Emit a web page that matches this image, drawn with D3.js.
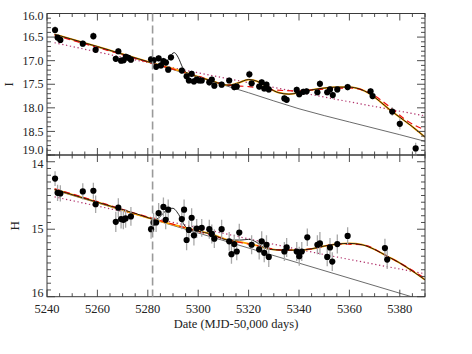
<!DOCTYPE html>
<html><head><meta charset="utf-8">
<script src="https://cdn.jsdelivr.net/npm/d3@7/dist/d3.min.js"></script>
<style>body{margin:0;background:#fff}svg{display:block}text{font-family:"Liberation Serif","Times New Roman",serif;fill:#222}</style>
</head><body><svg id="c" width="472" height="354"></svg>
<script>
// ---- data ----
const Iday = [5243.2,5244.2,5245.3,5254.2,5258.4,5259.3,5267.3,5268.3,5269.4,5270.4,5271.3,5272.3,5273.3,5281.3,5282.3,5283.3,5284.3,5285.2,5286.2,5287.2,5288.1,5289.2,5293.5,5295.4,5296.3,5297.4,5298.3,5299.4,5300.4,5301.4,5304.4,5305.4,5306.4,5309.3,5312.3,5314.3,5315.3,5320.3,5321.2,5324.2,5325.2,5326.2,5327.1,5328.0,5334.2,5335.1,5339.1,5340.1,5341.7,5343.0,5347.3,5348.3,5351.2,5352.3,5353.4,5355.2,5359.3,5368.4,5369.2,5377.0,5380.0,5386.3];
const Imag = [16.35,16.51,16.56,16.64,16.48,16.77,16.96,16.80,17.00,16.99,16.92,16.94,16.98,16.97,16.99,17.13,16.95,17.10,17.01,17.04,17.19,16.93,17.21,17.33,17.42,17.28,17.44,17.40,17.42,17.42,17.46,17.40,17.53,17.51,17.42,17.56,17.55,17.29,17.48,17.55,17.46,17.59,17.51,17.61,17.80,17.83,17.62,17.71,17.66,17.65,17.67,17.49,17.67,17.61,17.73,17.61,17.56,17.65,17.75,18.08,18.34,18.86];
const Ierr = [0.08,0.07,0.07,0.07,0.08,0.07,0.07,0.07,0.07,0.07,0.07,0.07,0.07,0.07,0.07,0.07,0.07,0.07,0.07,0.07,0.07,0.07,0.07,0.07,0.07,0.07,0.07,0.07,0.07,0.07,0.07,0.07,0.07,0.07,0.07,0.07,0.07,0.08,0.07,0.07,0.07,0.07,0.07,0.07,0.07,0.07,0.07,0.07,0.07,0.07,0.07,0.08,0.07,0.07,0.07,0.07,0.07,0.07,0.07,0.09,0.12,0.12];

const Hday = [5243.2,5244.2,5245.3,5254.2,5258.4,5259.3,5267.3,5268.3,5269.4,5270.3,5271.2,5273.3,5281.3,5282.3,5283.3,5284.3,5286.2,5287.1,5288.1,5293.5,5294.4,5295.4,5296.3,5297.4,5298.3,5299.4,5301.4,5304.4,5305.4,5306.4,5309.3,5312.3,5313.2,5314.3,5315.3,5316.3,5321.2,5324.2,5325.2,5326.2,5327.1,5328.0,5334.2,5335.1,5339.1,5340.1,5341.1,5343.3,5347.3,5348.3,5351.2,5352.3,5353.2,5355.2,5359.3,5374.1,5375.0];
const Hmag = [14.25,14.46,14.47,14.44,14.43,14.63,14.89,14.68,14.85,14.86,14.84,14.81,15.00,14.90,14.90,14.76,14.67,14.86,14.71,14.85,14.71,15.16,15.01,14.83,15.09,14.99,14.98,15.00,15.07,15.14,15.00,15.18,15.37,15.22,15.33,15.05,15.23,15.30,15.18,15.35,15.23,15.41,15.33,15.27,15.33,15.40,15.33,15.12,15.23,15.21,15.41,15.27,15.48,15.22,15.10,15.28,15.45];
const Herr = [0.11,0.12,0.12,0.12,0.12,0.13,0.15,0.14,0.14,0.14,0.14,0.14,0.14,0.14,0.14,0.15,0.14,0.14,0.15,0.15,0.15,0.15,0.14,0.14,0.15,0.14,0.13,0.14,0.14,0.14,0.14,0.14,0.14,0.14,0.13,0.13,0.14,0.15,0.15,0.14,0.14,0.15,0.14,0.14,0.14,0.14,0.14,0.13,0.14,0.17,0.14,0.14,0.14,0.14,0.13,0.14,0.14];

// model curves, I band
const gTopDay = [5243,5260,5280,5300,5320,5340,5360,5380,5390];
const gTopMag = [16.44,16.71,17.03,17.35,17.68,18.02,18.30,18.57,18.71];
const dTopDay = [5243,5290,5340,5390];
const dTopMag = [16.62,17.15,17.67,18.17];
const oTopDay = [5243,5260,5280,5290,5300,5306,5312,5316,5320,5324,5328,5332,5336,5340,5345,5350,5355,5360,5364,5368,5372,5376,5380,5385,5390];
const oTopMag = [16.44,16.70,17.02,17.17,17.34,17.44,17.52,17.47,17.40,17.45,17.58,17.68,17.71,17.68,17.62,17.58,17.56,17.56,17.60,17.70,17.86,18.04,18.20,18.40,18.62];
const rTopDay = [5243,5260,5280,5300,5312,5320,5330,5340,5350,5360,5368,5376,5383,5390];
const rTopMag = [16.46,16.72,17.03,17.33,17.52,17.55,17.62,17.64,17.60,17.58,17.68,17.98,18.28,18.47];
const kTopDay = [5243,5260,5280,5284,5286,5287.5,5288.5,5289.5,5290.5,5291.5,5292.5,5293.5,5294.5,5296,5300,5306,5312,5316,5320,5324,5328,5332,5336,5340,5345,5350,5355,5360,5364,5368,5372,5376,5380,5385,5390];
const kTopMag = [16.44,16.70,17.02,17.08,17.08,17.02,16.94,16.86,16.83,16.88,16.98,17.11,17.21,17.27,17.34,17.44,17.52,17.47,17.40,17.45,17.58,17.68,17.71,17.68,17.62,17.58,17.56,17.56,17.60,17.70,17.86,18.04,18.20,18.40,18.62];

// model curves, H band
const gBotDay = [5243,5390];
const gBotMag = [14.42,16.06];
const dBotDay = [5243,5289,5340,5390];
const dBotMag = [14.52,14.89,15.30,15.66];
const oBotDay = [5243,5260,5281,5289,5297,5305,5312,5318,5323,5328,5334,5340,5345,5350,5355,5360,5365,5370,5375,5380,5385,5390];
const oBotMag = [14.41,14.60,14.84,14.92,15.00,15.07,15.16,15.20,15.24,15.29,15.31,15.31,15.29,15.25,15.22,15.21,15.23,15.30,15.40,15.50,15.62,15.75];
const rBotDay = [5243,5260,5281,5297,5312,5323,5334,5345,5355,5365,5375,5385,5390];
const rBotMag = [14.40,14.59,14.83,15.00,15.16,15.24,15.31,15.29,15.22,15.23,15.40,15.61,15.73];
const kBotDay = [5243,5260,5281,5282.5,5284,5285.5,5287,5288.5,5290,5291.5,5293,5294.5,5296,5300,5305,5312,5317,5320,5323,5326,5329,5334,5340,5345,5350,5355,5360,5365,5370,5375,5380,5385,5390];
const kBotMag = [14.41,14.60,14.84,14.86,14.84,14.79,14.73,14.69,14.69,14.74,14.83,14.94,14.99,15.03,15.07,15.16,15.16,15.15,15.19,15.27,15.30,15.31,15.31,15.29,15.25,15.22,15.21,15.23,15.30,15.40,15.50,15.62,15.75];

const eventDay = 5281.9;
const xMajor = [5240,5260,5280,5300,5320,5340,5360,5380];
const topMajor = [16.0,16.5,17.0,17.5,18.0,18.5,19.0];
const botMajor = [14,15,16];

// ---- layout ----
const svg = d3.select('#c');
const L = 47, R = 425;
const x = d3.scaleLinear().domain([5240,5390]).range([L,R]);
const panels = [
  {id:'I', y: d3.scaleLinear().domain([16.0,19.0]).range([13.5,155]), top:13.5, bot:155,
   major: topMajor, fmt: d3.format('.1f'), labX: 9,
   pts: Iday.map((d,i)=>({d, m:Imag[i], e:Ierr[i]})),
   g:[gTopDay,gTopMag], dt:[dTopDay,dTopMag], o:[oTopDay,oTopMag], r:[rTopDay,rTopMag], k:[kTopDay,kTopMag]},
  {id:'H', y: d3.scaleLinear().domain([13.9,16.0]).range([155,296.7]), top:155, bot:296.7,
   major: botMajor, fmt: d3.format('d'), labX: 15,
   pts: Hday.map((d,i)=>({d, m:Hmag[i], e:Herr[i]})),
   g:[gBotDay,gBotMag], dt:[dBotDay,dBotMag], o:[oBotDay,oBotMag], r:[rBotDay,rBotMag], k:[kBotDay,kBotMag]}
];

const axisCol = '#3a3a3a';
panels.forEach((p,pi)=>{
  const y = p.y;
  const clipId = 'clip'+pi;
  svg.append('clipPath').attr('id',clipId).append('rect')
    .attr('x',L).attr('y',p.top).attr('width',R-L).attr('height',p.bot-p.top);
  const g = svg.append('g').attr('clip-path',`url(#${clipId})`);
  const line = d3.line().x(d=>x(d[0])).y(d=>y(d[1])).curve(d3.curveMonotoneX);
  const zip = a => a[0].map((d,i)=>[d,a[1][i]]);
  g.append('path').attr('d',line(zip(p.g))).attr('fill','none').attr('stroke','#5a5a5a').attr('stroke-width',0.9);
  g.append('path').attr('d',line(zip(p.dt))).attr('fill','none').attr('stroke','#b0306a').attr('stroke-width',1.2).attr('stroke-dasharray','1.3,2.6');
  g.append('path').attr('d',line(zip(p.o))).attr('fill','none').attr('stroke','#ffa500').attr('stroke-width',1.8);
  g.append('path').attr('d',line(zip(p.r))).attr('fill','none').attr('stroke','#ee1111').attr('stroke-width',1.2).attr('stroke-dasharray','6,4');
  g.append('path').attr('d',line(zip(p.k))).attr('fill','none').attr('stroke','#111').attr('stroke-width',0.9);
  // error bars
  g.selectAll('line.eb').data(p.pts).join('line').attr('class','eb')
    .attr('x1',d=>x(d.d)).attr('x2',d=>x(d.d)).attr('y1',d=>y(d.m-d.e)).attr('y2',d=>y(d.m+d.e))
    .attr('stroke','#a8a8a8').attr('stroke-width',1.3);
  g.selectAll('circle').data(p.pts).join('circle')
    .attr('cx',d=>x(d.d)).attr('cy',d=>y(d.m)).attr('r',3.1).attr('fill','#000');

  // frame
  svg.append('rect').attr('x',L).attr('y',p.top).attr('width',R-L).attr('height',p.bot-p.top)
    .attr('fill','none').attr('stroke',axisCol).attr('stroke-width',1);
  // x ticks (inward, top and bottom of each panel)
  const xMinor = d3.range(5240,5391,5);
  xMinor.forEach(v=>{
    const big = xMajor.includes(v);
    const len = big?7:3.5;
    svg.append('line').attr('x1',x(v)).attr('x2',x(v)).attr('y1',p.bot).attr('y2',p.bot-len).attr('stroke',axisCol).attr('stroke-width',0.9);
    svg.append('line').attr('x1',x(v)).attr('x2',x(v)).attr('y1',p.top).attr('y2',p.top+len).attr('stroke',axisCol).attr('stroke-width',0.9);
  });
  // y ticks
  const [d0,d1] = y.domain();
  const yMinor = d3.range(Math.round(d0*10), Math.round(d1*10)+1).map(v=>v/10);
  yMinor.forEach(v=>{
    const big = p.major.some(m=>Math.abs(m-v)<1e-6);
    const len = big?8:4;
    svg.append('line').attr('x1',L).attr('x2',L+len).attr('y1',y(v)).attr('y2',y(v)).attr('stroke',axisCol).attr('stroke-width',0.9);
    svg.append('line').attr('x1',R).attr('x2',R-len).attr('y1',y(v)).attr('y2',y(v)).attr('stroke',axisCol).attr('stroke-width',0.9);
  });
  p.major.forEach(v=>{
    let yy = y(v);
    if (Math.abs(yy-p.bot)<1) yy -= (pi===0 ? 5.5 : 3.8); else if (Math.abs(yy-p.top)<1) yy += 2.5;
    if (pi===1 && v===14) yy += 2.3;
    svg.append('text').attr('x',43.5).attr('y',yy).attr('dy','0.35em').attr('text-anchor','end')
      .attr('font-size',12).text(p.fmt(v));
  });
  svg.append('text').attr('transform',`translate(${p.labX + 4},${(p.top+p.bot)/2}) rotate(-90)`)
    .attr('text-anchor','middle').attr('font-size',13).text(p.id);
});

// event line
svg.append('line').attr('x1',x(eventDay)).attr('x2',x(eventDay)).attr('y1',13.5).attr('y2',296.7)
  .attr('stroke','#9a9a9a').attr('stroke-width',1.6).attr('stroke-dasharray','8,4');

// x labels
xMajor.forEach(v=>{
  svg.append('text').attr('x',x(v)).attr('y',312.5).attr('text-anchor','middle').attr('font-size',12.5).text(v);
});
svg.append('text').attr('x',236).attr('y',327.5).attr('text-anchor','middle').attr('font-size',12.5).text('Date (MJD-50,000 days)');
</script></body></html>
